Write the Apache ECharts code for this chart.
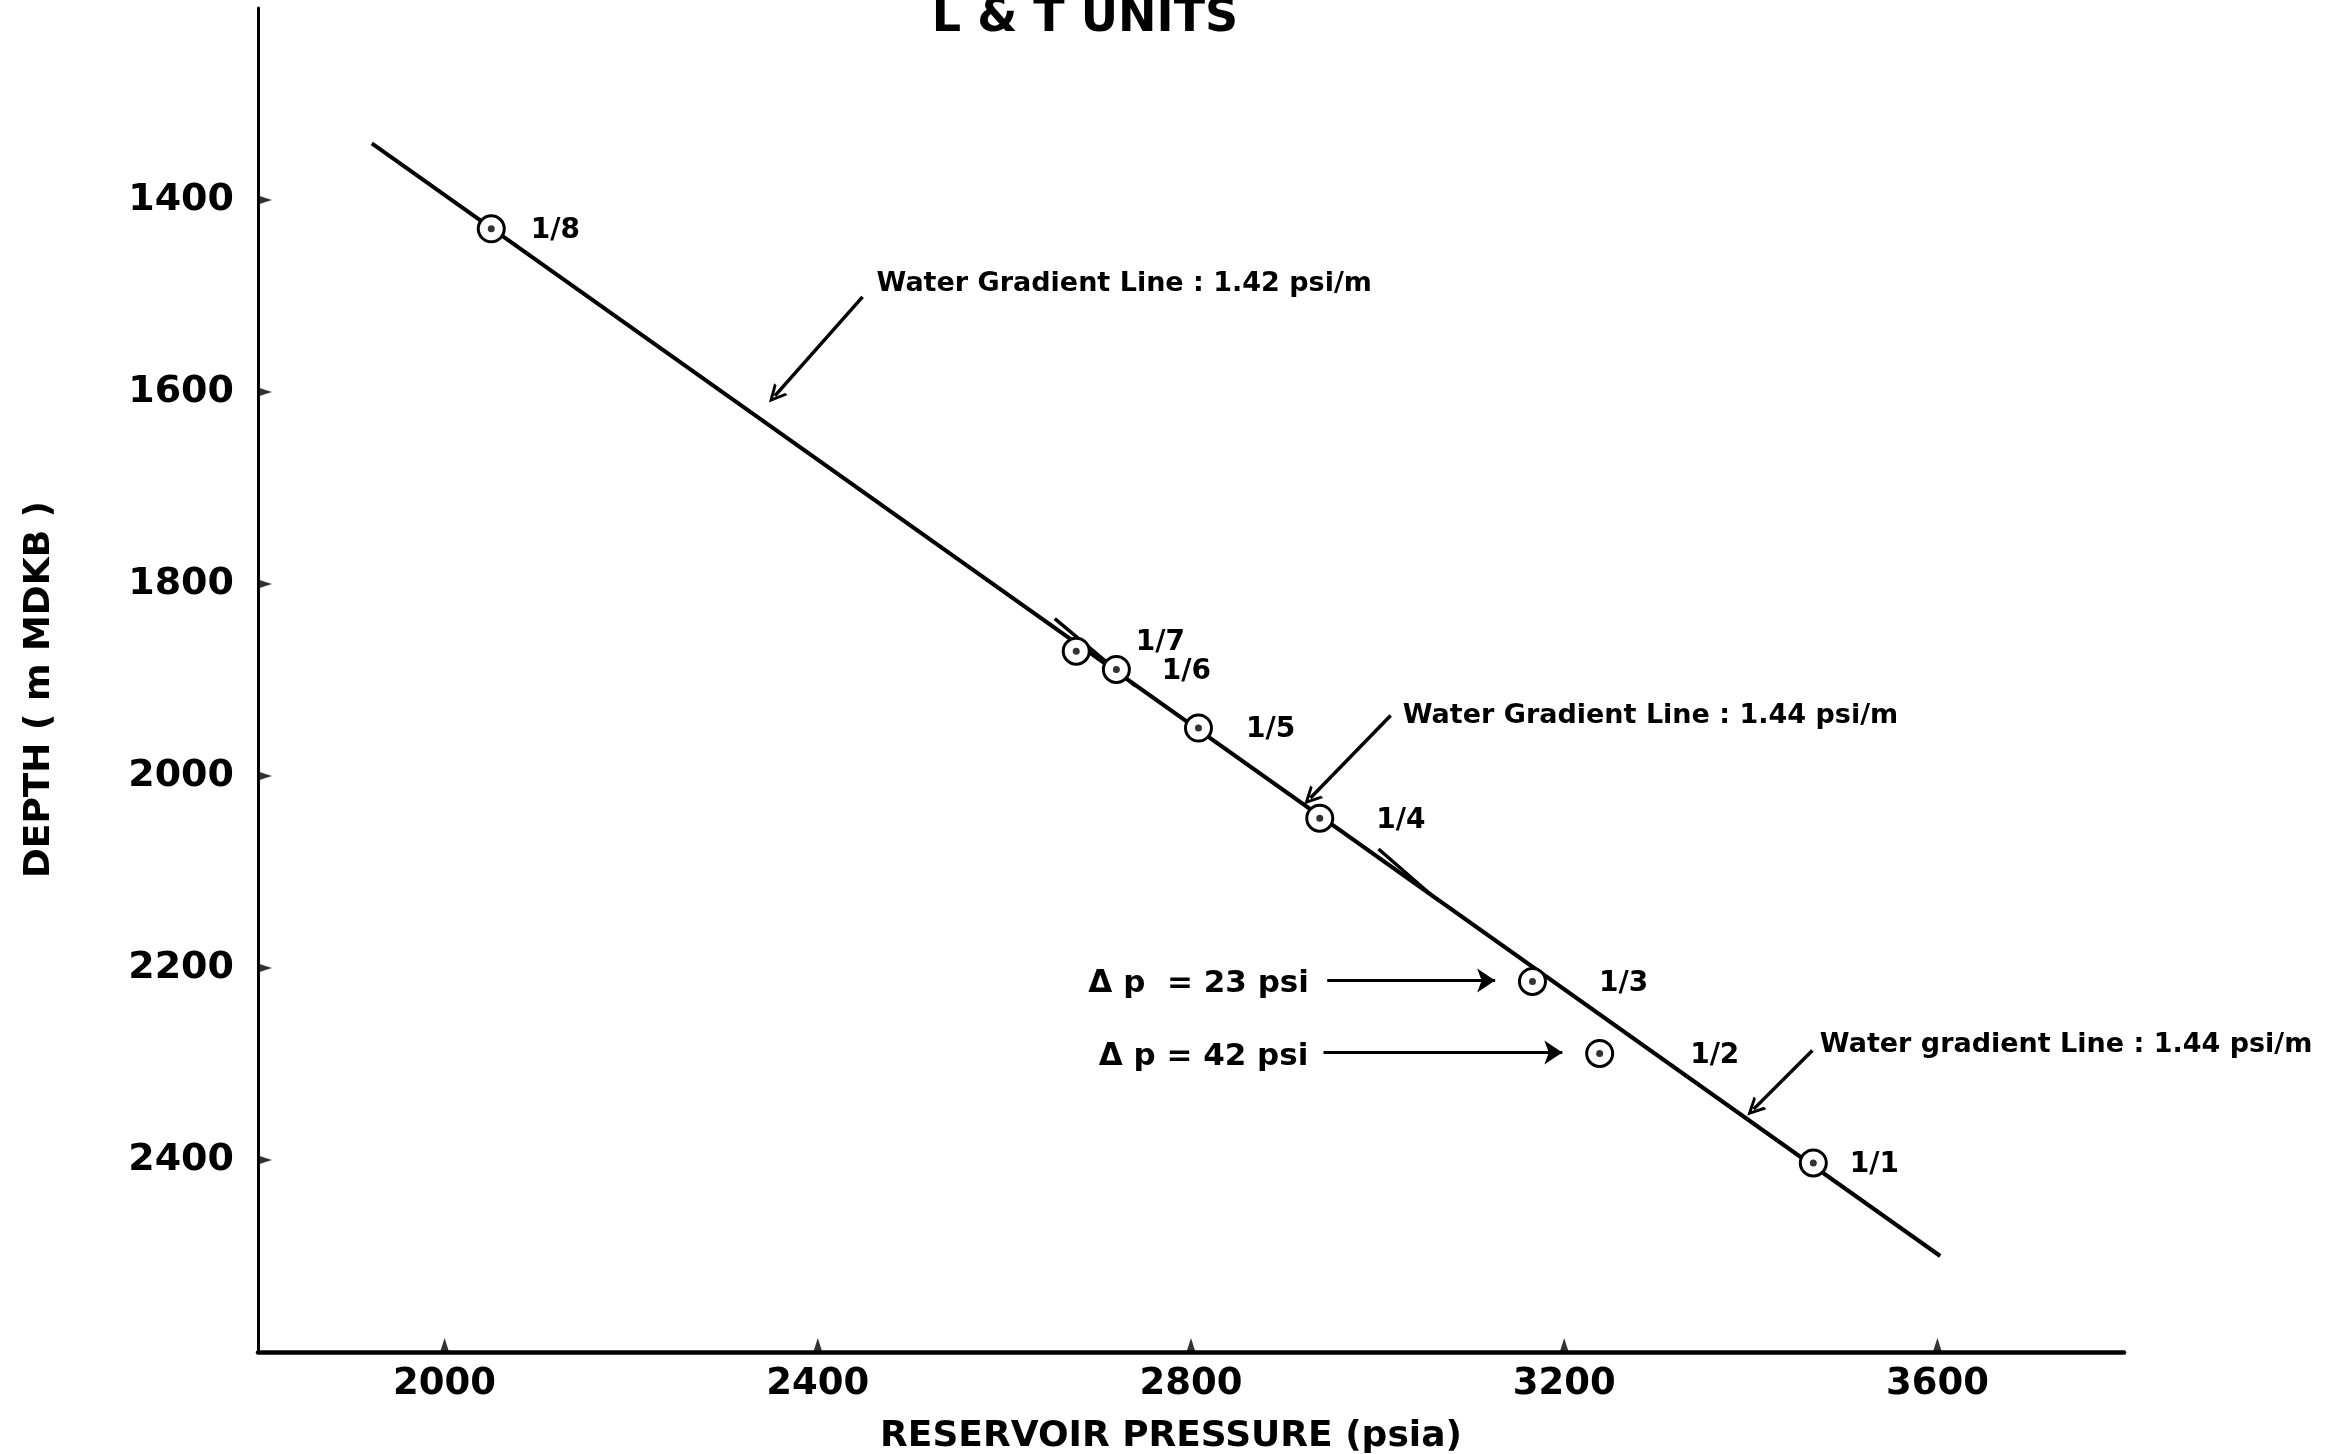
<!DOCTYPE html>
<html>
<head>
<meta charset="utf-8">
<script src="https://cdn.jsdelivr.net/npm/echarts@6/dist/echarts.min.js"></script>
<style>
html,body{margin:0;padding:0;background:#fff;}
#c{width:2342px;height:1454px;}
</style>
</head>
<body>
<div id="c"></div>
<script>
// ---- data ----
const pointNames = ['1/8','1/7','1/6','1/5','1/4','1/3','1/2','1/1'];
const pressure   = [2050, 2677, 2720, 2808, 2938, 3166, 3238, 3467];
const depth      = [1430, 1870, 1889, 1950, 2044, 2214, 2289, 2403];

const gradLineP = [1922, 3603];
const gradLineD = [1341, 2500];

const seg1P = [2654, 2740];
const seg1D = [1836, 1906];
const seg2P = [3001, 3060];
const seg2D = [2076, 2126];

const xTicks = [2000, 2400, 2800, 3200, 3600];
const yTicks = [1400, 1600, 1800, 2000, 2200, 2400];

const annTexts = ['Water Gradient Line : 1.42 psi/m',
                  'Water Gradient Line : 1.44 psi/m',
                  'Water gradient Line : 1.44 psi/m',
                  '\u0394 p  = 23 psi',
                  '\u0394 p = 42 psi'];
const annP = [2463, 3027, 3474, 2690, 2701];
const annD = [1487, 1938, 2280, 2217, 2293];

const arrowFromP = [2448, 3014, 3466, 2946, 2942];
const arrowFromD = [1501, 1937, 2286, 2213, 2288];
const arrowToP   = [2354, 2928, 3403, 3126, 3198];
const arrowToD   = [1604, 2023, 2347, 2213, 2288];

// ---- axis ranges ----
const X_MIN = 1800, X_MAX = 3800, Y_MIN = 1200, Y_MAX = 2600;

// ---- styles ----
const labelDist = [25, 45, 31, 33, 42, 52, 76, 22];
const labelDy   = [2, -8, 2, 2, 2, 2, 2, 2];
const annFont   = [27, 27, 27, 31, 31];
const CHEVRON = 'path://M0,10 L5,0 L10,10 L8.2,10 L5,3.6 L1.8,10 Z';

const FONT = 'DejaVu Sans';
const chart = echarts.init(document.getElementById('c'));

const pts = pointNames.map((n, i) => ({
  name: n,
  value: [pressure[i], depth[i]],
  label: { distance: labelDist[i], offset: [0, labelDy[i]] }
}));
const arrows = arrowFromP.map((p, i) => ({ coords: [[p, arrowFromD[i]], [arrowToP[i], arrowToD[i]]] }));

const option = {
  backgroundColor: '#fff',
  animation: false,
  grid: { left: 258, right: 218, top: 8, bottom: 102, containLabel: false, outerBoundsMode: 'none' },
  xAxis: {
    type: 'value', min: X_MIN, max: X_MAX,
    name: 'RESERVOIR PRESSURE (psia)', nameLocation: 'middle', nameGap: 67,
    nameTextStyle: { fontFamily: FONT, fontWeight: 'bold', fontSize: 36, color: '#000', padding: [0, 40, 0, 0] },
    axisLine: { lineStyle: { color: '#000', width: 4.5 } },
    axisTick: { show: false },
    axisLabel: { customValues: xTicks, margin: 14, fontFamily: FONT, fontWeight: 'bold', fontSize: 37, color: '#000',
                 formatter: v => String(v) },
    splitLine: { show: false }
  },
  yAxis: {
    type: 'value', min: Y_MIN, max: Y_MAX, inverse: true,
    name: 'DEPTH ( m MDKB )', nameLocation: 'middle', nameGap: 200,
    nameTextStyle: { fontFamily: FONT, fontWeight: 'bold', fontSize: 36, color: '#000', padding: [0, 19, 0, 0] },
    axisLine: { lineStyle: { color: '#000', width: 3 } },
    axisTick: { show: false },
    axisLabel: { customValues: yTicks, margin: 24, fontFamily: FONT, fontWeight: 'bold', fontSize: 38, color: '#000',
                 formatter: v => String(v) },
    splitLine: { show: false }
  },
  series: [
    { type: 'line', data: gradLineP.map((p, i) => [p, gradLineD[i]]), symbol: 'none',
      lineStyle: { color: '#000', width: 4 }, z: 2 },
    { type: 'line', data: seg1P.map((p, i) => [p, seg1D[i]]), symbol: 'none',
      lineStyle: { color: '#000', width: 3.5 }, z: 2 },
    { type: 'line', data: seg2P.map((p, i) => [p, seg2D[i]]), symbol: 'none',
      lineStyle: { color: '#000', width: 3.5 }, z: 2 },
    { type: 'lines', coordinateSystem: 'cartesian2d', z: 3,
      symbol: ['none', CHEVRON], symbolSize: [20, 18],
      lineStyle: { color: '#000', width: 3.5, opacity: 1 },
      data: arrows.slice(0, 3) },
    { type: 'lines', coordinateSystem: 'cartesian2d', z: 3,
      symbol: ['none', 'arrow'], symbolSize: [12, 18],
      lineStyle: { color: '#000', width: 3, opacity: 1 },
      data: arrows.slice(3) },
    { type: 'scatter', data: pts, symbol: 'circle', symbolSize: 26, z: 5,
      itemStyle: { color: '#fff', borderColor: '#000', borderWidth: 3, opacity: 1 },
      label: { show: true, position: 'right', formatter: '{b}', fontFamily: FONT,
               fontWeight: 'bold', fontSize: 28, color: '#000' } },
    { type: 'scatter', data: pressure.map((p, i) => [p, depth[i]]), symbol: 'circle', symbolSize: 7, z: 6,
      itemStyle: { color: '#000' } },
    // tick marks (small triangles on the axes)
    { type: 'scatter', z: 8, clip: false, symbol: 'triangle', symbolSize: [9, 14], symbolOffset: [0, -7],
      itemStyle: { color: '#000' }, silent: true,
      data: xTicks.map(v => [v, Y_MAX]) },
    { type: 'scatter', z: 8, clip: false, symbol: 'triangle', symbolSize: [9, 14], symbolRotate: -90,
      symbolOffset: [7, 0], itemStyle: { color: '#000' }, silent: true,
      data: yTicks.map(v => [X_MIN, v]) }
  ]
};
chart.setOption(option);

// title and annotation texts (anchored to data coordinates)
const graphics = [{
  type: 'text', x: 1085, y: 19, z: 100,
  style: { text: 'L & T UNITS', align: 'center', verticalAlign: 'middle',
           font: 'bold 46px "DejaVu Sans"', fill: '#000' }
}];
annTexts.forEach((t, i) => {
  const px = chart.convertToPixel({ gridIndex: 0 }, [annP[i], annD[i]]);
  graphics.push({
    type: 'text', x: px[0], y: px[1], z: 100,
    style: { text: t, align: 'left', verticalAlign: 'middle',
             font: 'bold ' + annFont[i] + 'px "DejaVu Sans"', fill: '#000' }
  });
});
chart.setOption({ graphic: graphics });
</script>
</body>
</html>
